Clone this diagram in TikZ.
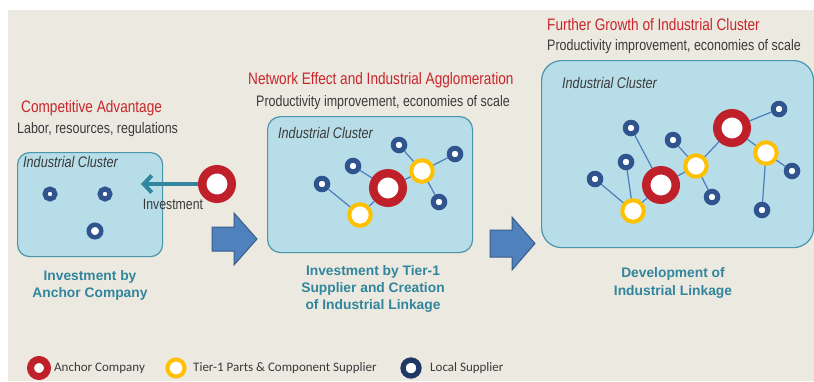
\documentclass[tikz,border=0pt]{standalone}
\usepackage{fontspec}
\setmainfont{Liberation Sans}
\newfontfamily\narrowfont[FakeStretch=0.82]{Liberation Sans}
\newfontfamily\legendfont{Carlito}
\usetikzlibrary{arrows.meta,positioning}

\definecolor{bgbeige}{HTML}{ECE9E0}
\definecolor{clusterfill}{HTML}{B7DDE8}
\definecolor{clusteredge}{HTML}{4A96AC}
\definecolor{anchorred}{HTML}{C0202A}
\definecolor{tieryellow}{HTML}{FFC000}
\definecolor{localblue}{HTML}{30548E}
\definecolor{legendnavy}{HTML}{1F3864}
\definecolor{linkblue}{HTML}{4A7EBB}
\definecolor{titlered}{HTML}{C8262C}
\definecolor{textgrey}{HTML}{3A3A3A}
\definecolor{stageteal}{HTML}{31859C}
\definecolor{arrowfill}{HTML}{4F81BD}
\definecolor{arrowedge}{HTML}{385D8A}

\begin{document}
\begin{tikzpicture}[x=1pt, y=-1pt,
	cluster/.style={draw=clusteredge, fill=clusterfill, line width=1.2pt, rounded corners=12pt, anchor=north west, inner sep=0pt},
	clabel/.style={anchor=west, inner sep=0pt, text=textgrey, font=\narrowfont\itshape\fontsize{15.4}{17}\selectfont},
	title/.style={anchor=west, inner sep=0pt, text=titlered, font=\narrowfont\fontsize{16.6}{19}\selectfont},
	subtitle/.style={anchor=west, inner sep=0pt, text=textgrey, font=\narrowfont\fontsize{15.2}{18}\selectfont},
	stage/.style={align=center, inner sep=0pt, text=stageteal, font=\bfseries\fontsize{13.8}{17.3}\selectfont},
	anchorco/.style={circle, draw=anchorred, fill=white, line width=8.5pt, minimum size=29.5pt, inner sep=0pt, outer sep=4.25pt},
	tierone/.style={circle, draw=tieryellow, fill=white, line width=4pt, minimum size=21.5pt, inner sep=0pt, outer sep=2pt},
	localsup/.style={circle, draw=localblue, fill=white, line width=5pt, minimum size=11.5pt, inner sep=0pt, outer sep=2.5pt},
	link/.style={draw=linkblue, line width=1.2pt},
	invarr/.style={draw=stageteal, line width=4pt, -{Straight Barb[length=8pt, width=17pt]}},
	bigarr/.style={draw=arrowedge, fill=arrowfill, line width=1pt, line join=miter},
	legtext/.style={inner sep=0pt, text=textgrey, font=\legendfont\fontsize{13}{15}\selectfont}]
	\useasboundingbox (0,0) rectangle (814,381);
	\fill[bgbeige] (8,10) rectangle (814,381);
	
	% stage 1
	\node[title] (t1) at (21,108) {Competitive Advantage};
	\node[subtitle] (s1) at (17,130) {Labor, resources, regulations};
	\node[cluster, minimum width=145pt, minimum height=104pt] (clus1) at (17,152) {};
	\node[clabel] (cl1) at (23,162) {Industrial Cluster};
	\node[localsup, line width=5pt, minimum size=10pt] (l1a) at (50,194) {};
	\node[localsup, line width=5pt, minimum size=10pt] (l1b) at (105,194) {};
	\node[localsup, line width=4.5pt, minimum size=12.5pt] (l1c) at (95,231) {};
	\node[anchorco] (a1) at (217,184) {};
	\coordinate (invtip) at (141,184);
	\draw[invarr] (a1.west) -- (invtip);
	\node[inner sep=0pt, text=textgrey, font=\narrowfont\fontsize{15}{17}\selectfont] (invest) at (173,204) {Investment};
	\node[stage] (g1) at (90,285.5) {Investment by\\Anchor Company};
	\draw[bigarr] (212,227) -- (234,227) -- (234,213) -- (257,239) -- (234,265) -- (234,251) -- (212,251) -- cycle;
	
	% stage 2
	\node[title] (t2) at (248,80) {Network Effect and Industrial Agglomeration};
	\node[subtitle] (s2) at (256,103) {Productivity improvement, economies of scale};
	\node[cluster, minimum width=205pt, minimum height=136pt, rounded corners=13pt] (clus2) at (267,116) {};
	\node[clabel] (cl2) at (278,133) {Industrial Cluster};
	\node[anchorco] (a2) at (388,188) {};
	\node[tierone] (y2a) at (422,171) {};
	\node[tierone] (y2b) at (360,215) {};
	\node[localsup] (l2a) at (399,145) {};
	\node[localsup] (l2b) at (455,154) {};
	\node[localsup] (l2c) at (353,166) {};
	\node[localsup] (l2d) at (322,184) {};
	\node[localsup] (l2e) at (439,202) {};
	\draw[link] (l2a) -- (y2a);
	\draw[link] (l2b) -- (y2a);
	\draw[link] (y2a) -- (l2e);
	\draw[link] (y2a) -- (a2);
	\draw[link] (l2c) -- (a2);
	\draw[link] (a2) -- (y2b);
	\draw[link] (y2b) -- (l2d);
	\node[stage] (g2) at (373,289) {Investment by Tier-1\\Supplier and Creation\\of Industrial Linkage};
	\draw[bigarr] (490,230) -- (512,230) -- (512,217) -- (535,243.5) -- (512,270) -- (512,257) -- (490,257) -- cycle;
	
	% stage 3
	\node[title] (t3) at (547,25) {Further Growth of Industrial Cluster};
	\node[subtitle] (s3) at (547,47) {Productivity improvement, economies of scale};
	\node[cluster, minimum width=272pt, minimum height=187pt, rounded corners=20pt] (clus3) at (541,60) {};
	\node[clabel] (cl3) at (562,83) {Industrial Cluster};
	\node[anchorco] (a3a) at (661,185) {};
	\node[anchorco] (a3b) at (732,128) {};
	\node[tierone] (y3a) at (633,211) {};
	\node[tierone] (y3b) at (696,166) {};
	\node[tierone] (y3c) at (766,153) {};
	\node[localsup] (l3a) at (631,128) {};
	\node[localsup] (l3b) at (626,162) {};
	\node[localsup] (l3c) at (595,179) {};
	\node[localsup] (l3d) at (673,140) {};
	\node[localsup] (l3e) at (712,197) {};
	\node[localsup] (l3f) at (779,109) {};
	\node[localsup] (l3g) at (792,171) {};
	\node[localsup] (l3h) at (762,210) {};
	\draw[link] (l3a) -- (a3a);
	\draw[link] (l3b) -- (y3a);
	\draw[link] (l3c) -- (y3a);
	\draw[link] (y3a) -- (a3a);
	\draw[link] (a3a) -- (y3b);
	\draw[link] (l3d) -- (y3b);
	\draw[link] (y3b) -- (l3e);
	\draw[link] (y3b) -- (a3b);
	\draw[link] (a3b) -- (l3f);
	\draw[link] (a3b) -- (y3c);
	\draw[link] (y3c) -- (l3g);
	\draw[link] (y3c) -- (l3h);
	\node[stage] (g3) at (673,283) {Development of\\Industrial Linkage};
	
	% legend
	\node[anchorco, line width=7pt, minimum size=17pt, outer sep=0pt] (lg1) at (39,368) {};
	\node[legtext, anchor=west, right=6.5pt of lg1] (lt1) {Anchor Company};
	\node[tierone, line width=4pt, minimum size=17pt, outer sep=0pt] (lg2) at (176,368) {};
	\node[legtext, anchor=west, right=8.5pt of lg2] (lt2) {Tier-1 Parts \& Component Supplier};
	\node[localsup, draw=legendnavy, line width=5.3pt, minimum size=16pt, outer sep=0pt] (lg3) at (411,368) {};
	\node[legtext, anchor=west, right=11pt of lg3] (lt3) {Local Supplier};
\end{tikzpicture}
\end{document}
